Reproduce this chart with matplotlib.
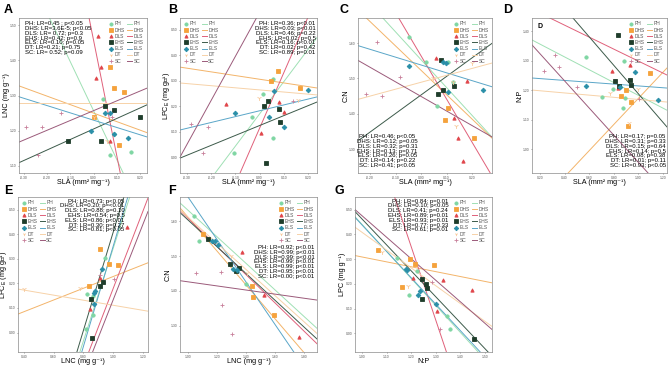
import numpy as np
import matplotlib.pyplot as plt
from matplotlib.lines import Line2D

plt.rcParams['font.family'] = ['Liberation Sans', 'DejaVu Sans']

groups = ['PH', 'DHS', 'DLS', 'EHS', 'ELS', 'DT', 'SC']
colors = {'PH': '#7fd6a3', 'DHS': '#f5a23c', 'DLS': '#e0464b', 'EHS': '#1f3d2b',
          'ELS': '#2a8fa8', 'DT': '#f8c99a', 'SC': '#c87f9a'}
line_colors = {'PH': '#9fe0b4', 'DHS': '#f3b46a', 'DLS': '#e0607a', 'EHS': '#3c5a4a',
               'ELS': '#5aa6c8', 'DT': '#f7d2a8', 'SC': '#9b5a7a'}
markers = {'PH': 'o', 'DHS': 's', 'DLS': '^', 'EHS': 's', 'ELS': 'D', 'DT': '1', 'SC': '+'}

# ---- panel A: LNC vs SLA
A_x = {'PH': [0.04, 0.09, 0.07, 0.16], 'DHS': [0.07, 0.09, 0.13, 0.00, 0.11],
       'DLS': [0.02, 0.03, 0.01, 0.07], 'EHS': [0.05, 0.09, 0.20, -0.11, 0.03],
       'ELS': [-0.01, 0.05, 0.07, 0.09, 0.15], 'DT': [0.00, 0.06],
       'SC': [-0.29, -0.22, -0.14, -0.24, 0.08]}
A_y = {'PH': [1.29, 1.19, 1.13, 1.14], 'DHS': [1.38, 1.32, 1.31, 1.24, 1.16],
       'DLS': [1.47, 1.38, 1.35, 1.17], 'EHS': [1.27, 1.26, 1.24, 1.17, 1.17],
       'ELS': [1.20, 1.25, 1.25, 1.19, 1.18], 'DT': [1.24, 1.17],
       'SC': [1.21, 1.21, 1.25, 1.13, 1.24]}
A_fit = {'PH': (-1.387, 1.257), 'DHS': (-0.241, 1.250), 'DLS': (-3.28, 1.457),
         'EHS': (0.298, 1.205), 'ELS': (-0.207, 1.230), 'DT': (0.0, 1.279), 'SC': (0.278, 1.257)}
A_stats = ['PH: LR=0.45 ; p<0.05', 'DHS: LR=3.6E-5; p<0.05', 'DLS: LR= 0.72; p=0.3',
           'EHS: LR=0.42; p=0.9', 'ELS: LR=0.10; p=0.05', 'DT: LR=0.21; p=0.75', 'SC: LR= 0.52; p=0.09']

# ---- panel B: LPC_E vs SLA
B_x = {'PH': [0.055, 0.014, 0.055, -0.106, -0.031], 'DHS': [0.076, 0.047, 0.167],
       'DLS': [0.080, 0.101, 0.006, -0.139], 'EHS': [0.035, 0.018, 0.080, 0.084, 0.026],
       'ELS': [0.059, -0.102, 0.039, 0.101, 0.200], 'DT': [-0.002, 0.159],
       'SC': [-0.283, -0.213, -0.234, 0.138]}
B_y = {'PH': [0.307, 0.248, 0.075, 0.016, 0.157], 'DHS': [0.339, 0.299, 0.272],
       'DLS': [0.217, 0.177, 0.094, 0.209], 'EHS': [0.220, 0.201, 0.189, 0.138, -0.024],
       'ELS': [0.260, 0.173, 0.157, 0.118, 0.264], 'DT': [0.232, 0.224],
       'SC': [0.130, 0.118, 0.016, 0.220]}
B_fit = {'PH': (1.268, 0.170), 'DHS': (-0.145, 0.306), 'DLS': (2.185, 0.114),
         'EHS': (0.390, 0.124), 'ELS': (0.230, 0.182), 'DT': (-0.083, 0.264), 'SC': (1.733, 0.570)}
B_stats = ['PH: LR=0.36; p<0.01', 'DHS: LR=0.03; p<0.01', 'DLS: LR=0.46; p=0.22',
           'EHS: LR=0.02; p=0.5', 'ELS: LR=0.16; p<0.01', 'DT: LR=0.02; p=0.42', 'SC: LR=0.89; p=0.01']

# ---- panel C: C:N vs SLA
C_x = {'PH': [-0.047, 0.020, 0.106, 0.063, 0.126], 'DHS': [0.106, 0.094, 0.208],
       'DLS': [0.059, 0.180, 0.129, 0.145, 0.165], 'EHS': [0.078, 0.086, 0.129, 0.067],
       'ELS': [-0.047, 0.086, 0.098, 0.106, 0.243], 'DT': [0.047, 0.126, 0.137, 0.200],
       'SC': [-0.173, -0.082, -0.216, -0.153]}
C_y = {'PH': [1.617, 1.546, 1.546, 1.422, 1.490], 'DHS': [1.416, 1.382, 1.331],
       'DLS': [1.558, 1.493, 1.388, 1.331, 1.266], 'EHS': [1.552, 1.467, 1.478, 1.456],
       'ELS': [1.535, 1.546, 1.544, 1.461, 1.467], 'DT': [1.501, 1.490, 1.365, 1.544],
       'SC': [1.603, 1.504, 1.456, 1.450]}
C_fit = {'PH': (-0.789, 1.553), 'DHS': (-0.691, 1.523), 'DLS': (-1.224, 1.564),
         'EHS': (0.526, 1.453), 'ELS': (-0.222, 1.538), 'DT': (0.196, 1.489), 'SC': (-0.413, 1.449)}
C_stats = ['PH: LR=0.46; p<0.05', 'DHS: LR=0.12; p=0.05', 'DLS: LR=0.32; p=0.31',
           'EHS: LR=0.13; p=0.71', 'ELS: LR=0.26; p=0.05', 'DT: LR=0.14; p=0.22', 'SC: LR=0.41; p<0.05']

# ---- panel D: N:P vs SLA
D_x = {'PH': [0.574, 0.883, 0.704, 0.891, 0.875, 0.793], 'DHS': [1.094, 0.859, 0.899, 0.940, 0.915],
       'DLS': [0.785, 0.932, 0.834], 'EHS': [0.834, 0.810, 0.842, 0.932, 0.940],
       'ELS': [0.574, 0.972, 0.850, 1.159], 'DT': [0.769, 0.997, 0.924],
       'SC': [0.233, 0.322, 0.354, 0.501, 1.005]}
D_y = {'PH': [1.312, 1.298, 1.176, 1.173, 1.139, 1.203], 'DHS': [1.258, 1.180, 1.200, 1.159, 1.078],
       'DLS': [1.264, 1.285, 1.207], 'EHS': [1.386, 1.231, 1.214, 1.234, 1.217],
       'ELS': [1.214, 1.261, 1.210, 1.166], 'DT': [1.190, 1.203, 1.088],
       'SC': [1.264, 1.319, 1.278, 1.210, 1.170]}
D_fit = {'PH': (-0.217, 1.399), 'DHS': (0.443, 0.729), 'DLS': (-0.203, 1.501),
         'EHS': (-0.483, 1.670), 'ELS': (-0.031, 1.245), 'DT': (-0.037, 1.205), 'SC': (-0.460, 1.415)}
D_stats = ['PH: LR=0.17; p=0.05', 'DHS: LR=0.31; p=0.33', 'DLS: LR=0.15; p=0.64',
           'EHS: LR=0.14; p=0.5', 'ELS: LR=0.08; p=0.38', 'DT: LR=0.01; p=0.11', 'SC: LR=0.93; p<0.05']

# ---- panel E: LPC_E vs LNC
E_x = {'PH': [0.944, 0.866, 0.826, 0.866, 0.820], 'DHS': [0.911, 0.970, 1.029, 0.839],
       'DLS': [1.095, 0.911, 0.846], 'EHS': [0.931, 0.911, 0.852, 0.859],
       'ELS': [0.925, 0.879, 0.872, 0.872], 'DT': [0.400, 0.780],
       'SC': [1.003, 0.911]}
E_y = {'PH': [0.303, 0.150, 0.157, 0.071, 0.016], 'DHS': [0.339, 0.280, 0.276, 0.189],
       'DLS': [0.429, 0.220, 0.094], 'EHS': [0.205, 0.189, 0.138, -0.024],
       'ELS': [0.260, 0.169, 0.161, 0.118], 'DT': [0.177, 0.181],
       'SC': [0.217, 0.236]}
E_fit = {'PH': (1.883, -1.540), 'DHS': (0.239, -0.011), 'DLS': (1.575, -1.395),
         'EHS': (2.0, -1.591), 'ELS': (2.04, -1.688), 'DT': (-0.103, 0.214), 'SC': (1.537, -1.403)}
E_stats = ['PH: LR=0.73; p<0.05', 'DHS: LR=0.20; p=<0.01', 'DLS: LR=0.88; p=0.10',
           'EHS: LR=0.54; p=0.5', 'ELS: LR=0.86; p<0.01', 'DT: LR=0.30; p=0.27', 'SC: LR=0.81; p<0.05']

# ---- panel F: C:N vs LNC
F_x = {'PH': [1.041, 1.076, 1.400], 'DHS': [1.103, 1.441, 1.448, 1.593],
       'DLS': [1.372, 1.524, 1.766], 'EHS': [1.138, 1.290, 1.352, 1.331],
       'ELS': [1.166, 1.186, 1.207, 1.310, 1.338], 'DT': [1.297, 1.407],
       'SC': [1.055, 1.228, 1.234, 1.303]}
F_y = {'PH': [1.614, 1.544, 1.420], 'DHS': [1.563, 1.415, 1.381, 1.331],
       'DLS': [1.513, 1.387, 1.266], 'EHS': [1.549, 1.476, 1.465, 1.457],
       'ELS': [1.544, 1.544, 1.532, 1.462, 1.460], 'DT': [1.499, 1.451],
       'SC': [1.451, 1.454, 1.359, 1.275]}
F_fit = {'PH': (-0.382, 2.014), 'DHS': (-0.487, 2.099), 'DLS': (-0.406, 2.015),
         'EHS': (-0.385, 1.989), 'ELS': (-0.611, 2.281), 'DT': (-0.376, 1.988), 'SC': (-0.059, 1.485)}
F_stats = ['PH: LR=0.92; p<0.01', 'DHS: LR=0.99; p<0.01', 'DLS: LR=0.99; p<0.01',
           'EHS: LR=0.99; p<0.01', 'ELS: LR=0.99; p<0.01', 'DT: LR=0.95; p<0.01', 'SC: LR=0.00; p<0.01']

# ---- panel G: LPC vs N:P
G_x = {'PH': [1.142, 1.224, 1.191, 1.346, 1.358], 'DHS': [1.065, 1.195, 1.215, 1.293, 1.163],
       'DLS': [1.329, 1.447, 1.305, 1.207], 'EHS': [1.244, 1.260, 1.264, 1.244, 1.455],
       'ELS': [1.179, 1.183, 1.236, 1.228, 1.301], 'DT': [1.081, 1.187],
       'SC': [1.317, 1.285]}
G_y = {'PH': [0.303, 0.252, 0.157, 0.071, 0.016], 'DHS': [0.339, 0.299, 0.280, 0.276, 0.189],
       'DLS': [0.217, 0.177, 0.091, 0.224], 'EHS': [0.220, 0.201, 0.185, 0.138, -0.024],
       'ELS': [0.260, 0.256, 0.173, 0.157, 0.118], 'DT': [0.327, 0.193],
       'SC': [0.016, 0.209]}
G_fit = {'PH': (-1.093, 1.534), 'DHS': (-0.198, 0.507), 'DLS': (-2.975, 3.921),
         'EHS': (-1.050, 1.513), 'ELS': (-1.070, 1.509), 'DT': (-0.721, 1.130), 'SC': (-0.871, 1.347)}
G_stats = ['PH: LR=0.84; p=0.01', 'DHS: LR=0.10; p<0.05', 'DLS: LR=0.41; p=0.24',
           'EHS: LR=0.89; p=0.01', 'ELS: LR=0.93; p=0.01', 'DT: LR=0.77; p=0.33', 'SC: LR=0.61; p=0.01']

sla = 'SLA (mm² mg⁻¹)'
lnc = 'LNC (mg g⁻¹)'
lpce = 'LPC$_\\mathregular{E}$ (mg g⁻¹)'

fig = plt.figure(figsize=(6.69, 3.70), dpi=100)


def panel(rect, xs, ys, fits, stats, xlim, ylim, xticks, yticks, xlabel, ylabel,
          stat_pos, stat_ha, leg_loc):
    ax = fig.add_axes(rect)
    for g in groups:
        k, b = fits[g]
        lx = np.array(xlim)
        ax.plot(lx, b + k * lx, color=line_colors[g], lw=0.7, zorder=1)
    for g in groups:
        ms = 3.5 if markers[g] in ('1', '+') else 2.4
        ax.plot(xs[g], ys[g], ls='none', marker=markers[g], color=colors[g],
                ms=ms, mew=0.6, zorder=2)
    ax.set_xlim(xlim)
    ax.set_ylim(ylim)
    ax.set_xticks(xticks)
    ax.set_yticks(yticks)
    ax.set_xticklabels([f'{t:.2f}' for t in xticks])
    ax.set_yticklabels([f'{t:.2f}' for t in yticks])
    ax.tick_params(labelsize=2.4, length=1.0, width=0.4, pad=0.8, colors='#555555')
    for s in ax.spines.values():
        s.set_linewidth(0.5)
        s.set_color('#8a8a8a')
    w_px = rect[2] * 669
    ax.set_xlabel(xlabel, fontsize=5.2)
    ax.xaxis.set_label_coords(0.5, -0.04, transform=ax.transAxes)
    ax.xaxis.label.set_va('top')
    ax.set_ylabel(ylabel, fontsize=5.2)
    ax.yaxis.set_label_coords(-8.5 / w_px, 0.5, transform=ax.transAxes)
    ax.text(stat_pos[0], stat_pos[1], '\n'.join(stats), transform=ax.transAxes,
            fontsize=4.3, ha=stat_ha, va='top', linespacing=0.95)
    hm = [Line2D([], [], ls='none', marker=markers[g], color=colors[g], ms=2.3, mew=0.6)
          for g in groups]
    hl = [Line2D([], [], color=line_colors[g], lw=0.7) for g in groups]
    ax.legend(hm + hl, groups + groups, loc=leg_loc, ncol=2, fontsize=3.5, frameon=False,
              handlelength=1.0, handletextpad=0.3, columnspacing=0.4, labelspacing=0.25,
              borderaxespad=0.3, labelcolor='#555555')
    return ax


row1_b, row1_h = 0.5324, 0.4189
row2_b, row2_h = 0.0486, 0.4189

panel([0.0284, row1_b, 0.1913, row1_h], A_x, A_y, A_fit, A_stats,
      (-0.321, 0.23), (1.08, 1.52), [-0.3, -0.2, -0.1, 0.0, 0.1, 0.2], [1.1, 1.2, 1.3, 1.4, 1.5],
      sla, lnc, (0.05, 0.98), 'left', 'upper right')
panel([0.2691, row1_b, 0.2048, row1_h], B_x, B_y, B_fit, B_stats,
      (-0.329, 0.237), (-0.063, 0.547), [-0.3, -0.2, -0.1, 0.0, 0.1, 0.2],
      [0.0, 0.1, 0.2, 0.3, 0.4, 0.5], sla, lpce, (0.99, 0.98), 'right', 'upper left')
panel([0.5351, row1_b, 0.2003, row1_h], C_x, C_y, C_fit, C_stats,
      (-0.247, 0.278), (1.232, 1.671), [-0.2, -0.1, 0.0, 0.1, 0.2], [1.3, 1.4, 1.5, 1.6],
      sla, 'C:N', (0.22, 0.25), 'center', 'upper right')
axD = panel([0.7952, row1_b, 0.2018, row1_h], D_x, D_y, D_fit, D_stats,
            (0.135, 1.232), (0.919, 1.444), [0.2, 0.4, 0.6, 0.8, 1.0, 1.2],
            [1.0, 1.1, 1.2, 1.3, 1.4], sla, 'N:P', (0.99, 0.25), 'right', 'upper right')
axD.text(0.04, 0.97, 'D', transform=axD.transAxes, fontsize=5, fontweight='bold', va='top')
panel([0.0269, row2_b, 0.1943, row2_h], E_x, E_y, E_fit, E_stats,
      (0.361, 1.233), (-0.079, 0.551), [0.4, 0.6, 0.8, 1.0, 1.2],
      [0.0, 0.1, 0.2, 0.3, 0.4, 0.5], lnc, lpce, (0.82, 0.99), 'right', 'upper left')
panel([0.2691, row2_b, 0.2048, row2_h], F_x, F_y, F_fit, F_stats,
      (0.945, 1.89), (1.224, 1.67), [1.0, 1.2, 1.4, 1.6, 1.8], [1.3, 1.4, 1.5, 1.6],
      lnc, 'C:N', (0.98, 0.69), 'right', 'upper right')
panel([0.5306, row2_b, 0.2048, row2_h], G_x, G_y, G_fit, G_stats,
      (0.972, 1.528), (-0.075, 0.551), [1.0, 1.1, 1.2, 1.3, 1.4, 1.5],
      [0.0, 0.1, 0.2, 0.3, 0.4, 0.5], 'N:P', 'LPC (mg g⁻¹)', (0.68, 0.99), 'right',
      'upper right')

for lab, x, y in [('A', 0.006, 0.99), ('B', 0.252, 0.99), ('C', 0.508, 0.99), ('D', 0.752, 0.99),
                  ('E', 0.006, 0.50), ('F', 0.252, 0.50), ('G', 0.500, 0.50)]:
    fig.text(x, y, lab, fontsize=9, fontweight='bold', va='top')

fig.savefig('out.png', dpi=100)
